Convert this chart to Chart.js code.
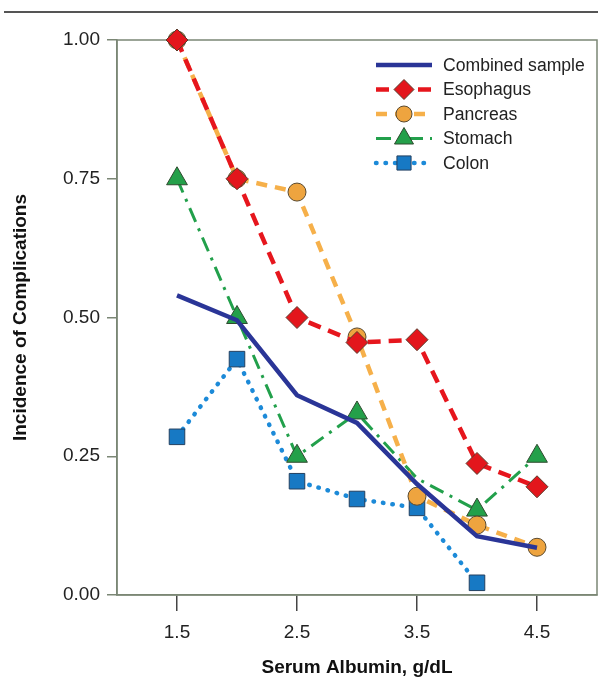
<!DOCTYPE html>
<html>
<head>
<meta charset="utf-8">
<script src="https://cdn.jsdelivr.net/npm/chart.js@4/dist/chart.umd.min.js"></script>
<style>
  html, body { margin: 0; padding: 0; background: #fff; }
  #wrap { width: 598px; height: 682px; position: relative; }
</style>
</head>
<body>
<div id="wrap"><canvas id="chart" width="598" height="682"></canvas></div>
<script>
// albumin levels (g/dL) and incidence values
var albumin = [1.5, 2.0, 2.5, 3.0, 3.5, 4.0, 4.5];
var xTickValues = [1.5, 2.5, 3.5, 4.5];
var combined  = [0.54, 0.495, 0.36, 0.31, 0.20, 0.106, 0.085];
var esophagus = [1.00, 0.75, 0.50, 0.455, 0.46, 0.237, 0.195];
var pancreas  = [1.00, 0.75, 0.726, 0.465, 0.178, 0.126, 0.086];
var stomach   = [0.75, 0.50, 0.25, 0.328, 0.21, 0.153, 0.25];
var colon     = [0.285, 0.425, 0.205, 0.173, 0.157, 0.022, null];
var seriesNames = ["Combined sample", "Esophagus", "Pancreas", "Stomach", "Colon"];

var FONT = "'Liberation Sans', Arial, Helvetica, sans-serif";
var frameColor = "#7b8775";

function pts(vals){
	var out = [];
	for (var i = 0; i < albumin.length; i++) {
		if (vals[i] !== null) out.push({x: albumin[i], y: vals[i]});
	}
	return out;
}

var ds = [
	{
		label: seriesNames[0], data: pts(combined),
		borderColor: "#2a3597", borderWidth: 4.5, pointRadius: 0,
		legendRadius: 0
	},
	{
		label: seriesNames[1], data: pts(esophagus),
		borderColor: "#e6161d", borderWidth: 4.5, borderDash: [13, 8],
		pointStyle: "rectRot", pointRadius: 11, pointBackgroundColor: "#e3161c",
		pointBorderColor: "#5a3a2a", pointBorderWidth: 1, legendRadius: 10
	},
	{
		label: seriesNames[2], data: pts(pancreas),
		borderColor: "#f6b04a", borderWidth: 4.5, borderDash: [11, 8],
		pointStyle: "circle", pointRadius: 9, pointBackgroundColor: "#eea43f",
		pointBorderColor: "#5a4a30", pointBorderWidth: 1, legendRadius: 8
	},
	{
		label: seriesNames[3], data: pts(stomach),
		borderColor: "#22a04b", borderWidth: 3, borderDash: [15, 7, 3, 7],
		pointStyle: "triangle", pointRadius: [12, 12, 12, 12, 0, 12, 12], pointBackgroundColor: "#24a04a",
		pointBorderColor: "#2f4a2f", pointBorderWidth: 1, legendRadius: 11
	},
	{
		label: seriesNames[4], data: pts(colon),
		borderColor: "#1c8ad8", borderWidth: 4.5, borderDash: [0.5, 9], borderCapStyle: "round",
		pointStyle: "rect", pointRadius: 11, pointBackgroundColor: "#1779c4",
		pointBorderColor: "#244060", pointBorderWidth: 1, legendRadius: 10
	}
];
ds.forEach(function(d){ d.fill = false; d.tension = 0; d.clip = false; d.showLine = true; });

// frame + top rule
var framePlugin = {
	id: "frame",
	beforeDatasetsDraw: function(chart){
		var a = chart.chartArea, ctx = chart.ctx;
		ctx.save();
		ctx.strokeStyle = frameColor;
		ctx.lineWidth = 1.5;
		ctx.strokeRect(a.left, a.top, a.right - a.left, a.bottom - a.top);
		ctx.strokeStyle = "#555";
		ctx.lineWidth = 2;
		ctx.beginPath();
		ctx.moveTo(4, 12); ctx.lineTo(598, 12);
		ctx.stroke();
		ctx.restore();
	}
};

// legend inside the plot, line sample with marker in the middle
var legendPlugin = {
	id: "innerLegend",
	afterDatasetsDraw: function(chart){
		var ctx = chart.ctx;
		var x0 = 376, x1 = 432, tx = 443, y0 = 65, dy = 24.5;
		ctx.save();
		chart.data.datasets.forEach(function(d, i){
			var y = y0 + i * dy;
			ctx.save();
			ctx.strokeStyle = d.borderColor;
			ctx.lineWidth = d.borderWidth;
			ctx.lineCap = d.borderCapStyle || "butt";
			ctx.setLineDash(d.borderDash || []);
			ctx.beginPath();
			ctx.moveTo(x0, y); ctx.lineTo(x1, y);
			ctx.stroke();
			ctx.restore();
			if (d.legendRadius) {
				ctx.fillStyle = d.pointBackgroundColor;
				ctx.strokeStyle = d.pointBorderColor;
				ctx.lineWidth = 1;
				Chart.helpers.drawPoint(ctx, {pointStyle: d.pointStyle, rotation: 0, radius: d.legendRadius, borderWidth: 1}, (x0 + x1) / 2, y);
			}
			ctx.fillStyle = "#222";
			ctx.font = "17.6px " + FONT;
			ctx.textBaseline = "middle";
			ctx.fillText(d.label, tx, y + 1);
		});
		ctx.restore();
	}
};

var chart1 = new Chart(document.getElementById("chart"), {
	type: "line",
	data: { datasets: ds },
	options: {
		responsive: false,
		animation: false,
		layout: { autoPadding: false, padding: { top: 40, right: 1, left: 0, bottom: 0 } },
		plugins: { legend: { display: false }, tooltip: { enabled: false } },
		scales: {
			x: {
				type: "linear", min: 1, max: 5,
				afterBuildTicks: function(scale){ scale.ticks = xTickValues.map(function(v){ return {value: v}; }); },
				afterFit: function(scale){ scale.height = 87; },
				grid: { drawOnChartArea: false, color: "#444", tickLength: 16, lineWidth: 1.5 },
				border: { display: true, color: frameColor, width: 1.5 },
				ticks: { color: "#222", font: { family: FONT, size: 19 }, padding: 10, maxRotation: 0,
					callback: function(v){ return v.toFixed(1); } },
				title: { display: true, text: "Serum Albumin, g/dL", color: "#111",
					font: { family: FONT, size: 19, weight: "bold" }, padding: { top: 0, bottom: 3 } }
			},
			y: {
				min: 0, max: 1,
				ticks: { stepSize: 0.25, color: "#222", font: { family: FONT, size: 19 }, padding: 7,
					callback: function(v){ return v.toFixed(2); } },
				afterFit: function(scale){ scale.width = 117; },
				grid: { drawOnChartArea: false, color: frameColor, tickLength: 10, lineWidth: 1.5 },
				border: { display: true, color: frameColor, width: 1.5 },
				title: { display: true, text: "Incidence of Complications", color: "#111",
					font: { family: FONT, size: 19, weight: "bold" }, padding: { top: 9, bottom: 0 } }
			}
		}
	},
	plugins: [framePlugin, legendPlugin]
});
</script>
</body>
</html>
